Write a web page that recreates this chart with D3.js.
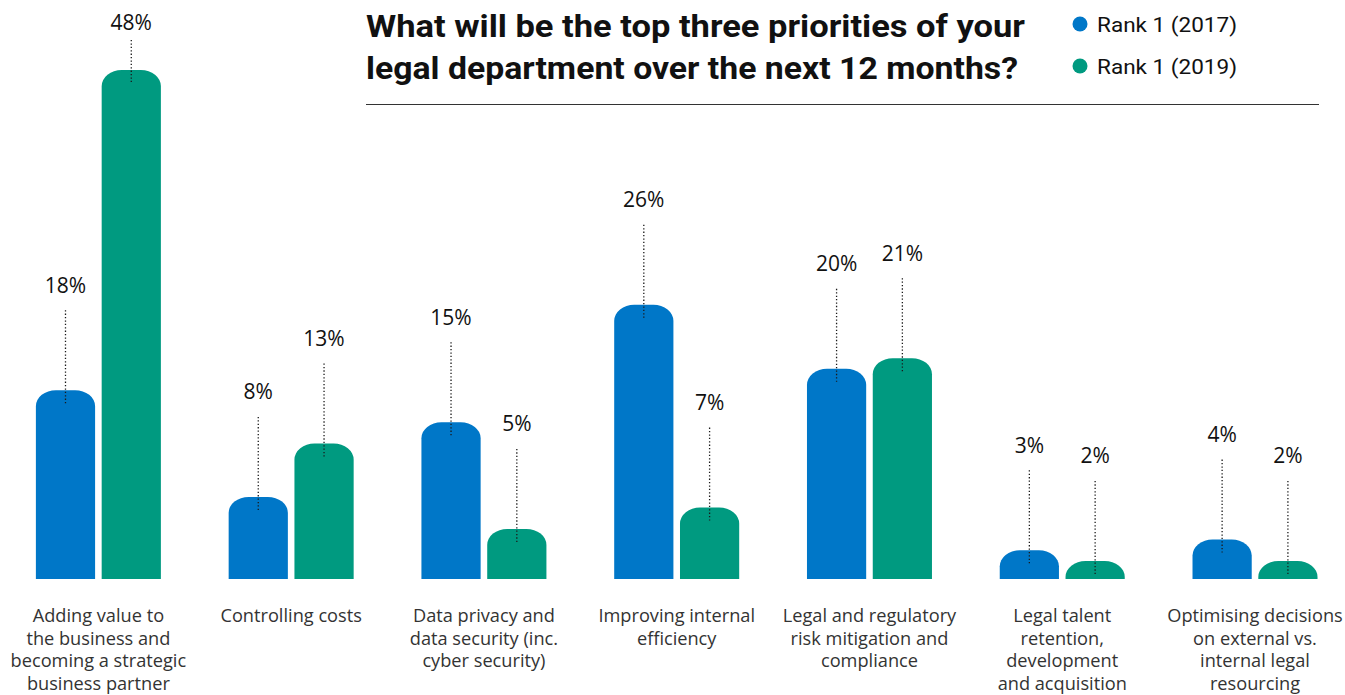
<!DOCTYPE html>
<html>
<head>
<meta charset="utf-8">
<script src="https://cdn.jsdelivr.net/npm/d3@7"></script>
<style>
  html, body { margin: 0; padding: 0; background: #fff; }
  svg { display: block; }
</style>
</head>
<body>
<svg id="chart" width="1345" height="695"></svg>
<script>
// Survey question and series
const titleLines = [
  "What will be the top three priorities of your",
  "legal department over the next 12 months?"
];
const seriesNames = ["Rank 1 (2017)", "Rank 1 (2019)"];
const seriesColors = ["#0077c8", "#009a80"];

// Category labels, one entry per printed line
const categories = [
  ["Adding value to", "the business and", "becoming a strategic", "business partner"],
  ["Controlling costs"],
  ["Data privacy and", "data security (inc.", "cyber security)"],
  ["Improving internal", "efficiency"],
  ["Legal and regulatory", "risk mitigation and", "compliance"],
  ["Legal talent", "retention,", "development", "and acquisition"],
  ["Optimising decisions", "on external vs.", "internal legal", "resourcing"]
];

// Percentages per category
const rank2017 = [18, 8, 15, 26, 20, 3, 4];
const rank2019 = [48, 13, 5, 7, 21, 2, 2];

const svg = d3.select("#chart");
const baseY = 579;

const x = d3.scaleBand()
  .domain(d3.range(categories.length))
  .range([2, 1351.4]);

const xInner = d3.scaleBand()
  .domain([0, 1])
  .range([-62.5, 62.5])
  .paddingInner(0.1);

const y = d3.scaleLinear().domain([0, 48]).range([582.3, 70]);

// Bar with a rounded (elliptical) top
function roundedTop(x0, top, w, base) {
  const h = base - top;
  const rx = 20;
  const ry = Math.min(16, h);
  return `M${x0},${base} V${top + ry} A${rx},${ry} 0 0 1 ${x0 + rx},${top}` +
         ` H${x0 + w - rx} A${rx},${ry} 0 0 1 ${x0 + w},${top + ry} V${base} Z`;
}

const data = [];
categories.forEach((c, i) => {
  [rank2017[i], rank2019[i]].forEach((v, s) => data.push({ i, s, v }));
});

const bars = svg.append("g");
bars.selectAll("path")
  .data(data)
  .join("path")
  .attr("d", d => {
    const cx = x(d.i) + x.bandwidth() / 2;
    return roundedTop(cx + xInner(d.s), y(d.v), xInner.bandwidth(), baseY);
  })
  .attr("fill", d => seriesColors[d.s]);

// Dotted leader lines and value labels
const labels = svg.append("g");
data.forEach(d => {
  const cx = x(d.i) + x.bandwidth() / 2 + xInner(d.s) + xInner.bandwidth() / 2;
  const lineBottom = y(d.v) + 13;
  const lineTop = Math.max(lineBottom - 93, 40);
  labels.append("line")
    .attr("x1", cx).attr("x2", cx)
    .attr("y1", lineTop).attr("y2", lineBottom)
    .attr("stroke", "#1a1a1a")
    .attr("stroke-width", 1.3)
    .attr("stroke-dasharray", "1.3,2.1");
  labels.append("text")
    .attr("x", cx)
    .attr("y", Math.max(lineTop - 17.5, 30))
    .attr("text-anchor", "middle")
    .attr("font-family", "'Open Sans', sans-serif")
    .attr("font-size", 21)
    .attr("fill", "#111")
    .text(d.v + "%");
});

// Category labels under each group
const cat = svg.append("g");
categories.forEach((lines, i) => {
  const t = cat.append("text")
    .attr("x", x(i) + x.bandwidth() / 2)
    .attr("y", 622)
    .attr("text-anchor", "middle")
    .attr("font-family", "'Open Sans', sans-serif")
    .attr("font-weight", 400)
    .attr("font-size", 18.2)
    .attr("fill", "#333");
  lines.forEach((l, k) => {
    t.append("tspan")
      .attr("x", x(i) + x.bandwidth() / 2)
      .attr("dy", k === 0 ? 0 : 22.5)
      .text(l);
  });
});

// Title
const titleWidths = [659, 652];
titleLines.forEach((l, k) => {
  svg.append("text")
    .attr("x", 366)
    .attr("y", 37 + k * 42)
    .attr("font-family", "Roboto, sans-serif")
    .attr("font-weight", 700)
    .attr("font-size", 32)
    .attr("fill", "#111")
    .attr("textLength", titleWidths[k])
    .attr("lengthAdjust", "spacingAndGlyphs")
    .text(l);
});

svg.append("line")
  .attr("x1", 366).attr("x2", 1319)
  .attr("y1", 104.5).attr("y2", 104.5)
  .attr("stroke", "#333").attr("stroke-width", 1.2);

// Legend
const legend = svg.append("g");
seriesNames.forEach((name, k) => {
  const ly = 24 + k * 42;
  legend.append("circle")
    .attr("cx", 1080).attr("cy", ly).attr("r", 7.5)
    .attr("fill", seriesColors[k]);
  legend.append("text")
    .attr("x", 1097).attr("y", ly + 7.5)
    .attr("font-family", "Roboto, sans-serif")
    .attr("font-size", 21)
    .attr("fill", "#111")
    .attr("textLength", 140)
    .attr("lengthAdjust", "spacingAndGlyphs")
    .text(name);
});
</script>
</body>
</html>
